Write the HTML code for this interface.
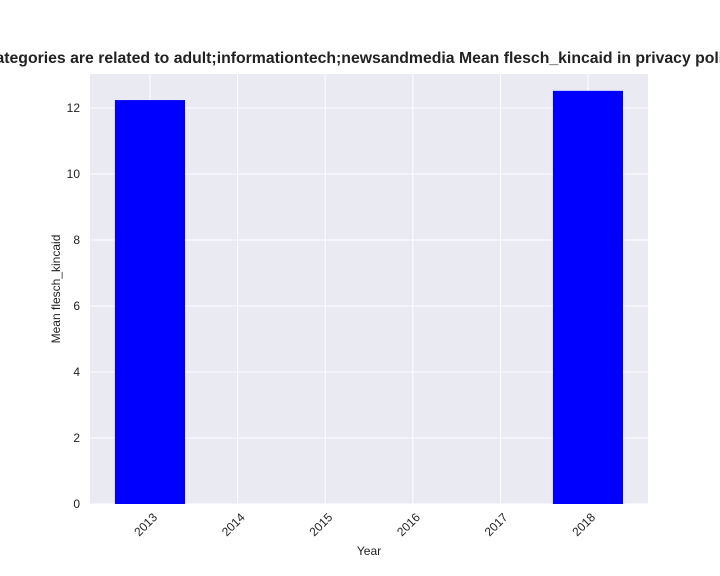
<!DOCTYPE html>
<html><head><meta charset="utf-8"><style>body{margin:0;background:#fff}svg{display:block;font-family:"Liberation Sans","DejaVu Sans",sans-serif}</style></head>
<body>
<svg id="chart" width="720" height="576" viewBox="0 0 720 576">
<rect x="0" y="0" width="720" height="576" fill="#fff"/>
<rect x="90" y="74" width="558" height="430" fill="#eaeaf2"/>
<g id="grid"></g><g id="bars"></g><g id="ticks"></g>
<text x="369" y="63" text-anchor="middle" font-size="15.8" font-weight="bold" fill="#222">Categories are related to adult;informationtech;newsandmedia Mean flesch_kincaid in privacy policies</text>
<text x="369" y="555" text-anchor="middle" font-size="12" fill="#222">Year</text>
<text transform="translate(60,289) rotate(-90)" text-anchor="middle" font-size="12" fill="#222">Mean flesch_kincaid</text>
</svg>
<script>
const years = [2013, 2014, 2015, 2016, 2017, 2018];
const values = [12.24, 0, 0, 0, 0, 12.52];
const yTicks = [0, 2, 4, 6, 8, 10, 12];
const NS = "http://www.w3.org/2000/svg";
const x0 = 90, x1 = 648, yb = 504, yt = 74;
const xMin = 2012.315, xMax = 2018.685, yMin = 0, yMax = 13.03;
const xs = v => x0 + (v - xMin) / (xMax - xMin) * (x1 - x0);
const ys = v => yb - (v - yMin) / (yMax - yMin) * (yb - yt);
function mk(tag, attrs, parent) { const e = document.createElementNS(NS, tag); for (const k in attrs) e.setAttribute(k, attrs[k]); document.getElementById(parent).appendChild(e); return e; }
yTicks.forEach(t => {
  const g = mk('line', {x1: x0, x2: x1, y1: ys(t), y2: ys(t), stroke: '#fff', 'stroke-width': 1}, 'grid');
  
  
  const l = mk('text', {x: x0 - 10, y: ys(t) + 4, 'text-anchor': 'end', 'font-size': 12, fill: '#222'}, 'ticks');
  l.textContent = t;
  
  
});
years.forEach((yr, i) => {
  const g = mk('line', {x1: xs(yr), x2: xs(yr), y1: yt, y2: yb, stroke: '#fff', 'stroke-width': 1}, 'grid');
  
  
  const w = (xs(1) - xs(0)) * 0.8;
  const top = ys(values[i]);
  const b = mk('rect', {x: xs(yr) - w / 2, y: top, width: w, height: yb - top, fill: '#0000ff'}, 'bars');
  
  
  const cx = xs(yr) + 8, cy = yb + 14;
  const l = mk('text', {x: cx, y: cy, 'text-anchor': 'end', 'font-size': 12, fill: '#222', transform: `rotate(-45 ${cx} ${cy})`}, 'ticks');
  l.textContent = yr;
  
  
});
</script>
</body></html>
